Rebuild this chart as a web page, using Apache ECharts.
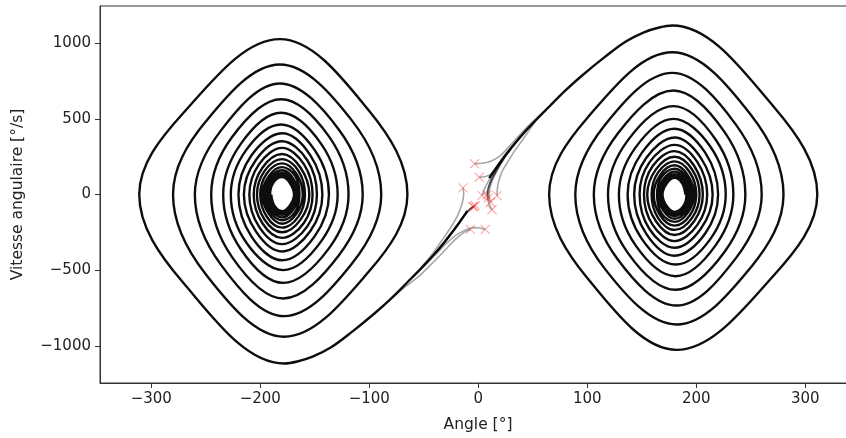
<!DOCTYPE html>
<html>
<head>
<meta charset="utf-8">
<script src="https://cdn.jsdelivr.net/npm/echarts@6/dist/echarts.min.js"></script>
<style>
html, body { margin: 0; background: #fff; }
#chart { width: 846px; height: 438px; }
</style>
</head>
<body>
<div id="chart"></div>
<script>
// ticks
var xTicks = [-300, -200, -100, 0, 100, 200, 300];
var yTicks = [-1000, -500, 0, 500, 1000];

// right-hand spiral (around +180°), clockwise
var rightSpiral = [
    [10, 108], [20, 212], [30, 305], [40, 392], [50, 470], [65, 580], [80, 688], [95, 785],
    [115, 903], [135, 1010], [152, 1072], [166, 1104], [178, 1117],
    [271, 580], [311, 0], [271, -535], [182, -1027],
    [100, -552], [65, 0], [100, 506], [178, 940],
    [250, 527], [280, 0], [250, -482], [182, -859],
    [116, -490], [89, 0], [116, 458], [178, 804],
    [236, 465], [260, 0], [236, -424], [182, -734],
    [128, -430], [106, 0], [128, 403], [179, 687],
    [226, 412], [245, 0], [226, -378], [181, -630],
    [137, -384], [119, 0], [137, 356], [179, 584],
    [218, 360], [234, 0], [218, -333], [181, -540],
    [144, -333], [129, 0], [144, 308], [179, 500],
    [213, 316], [227, 0], [213, -293], [181, -463],
    [150, -293], [137, 0], [150, 275], [180, 435],
    [208, 278], [220, 0], [208, -259], [180, -405],
    [154, -259], [143, 0], [154, 241], [180, 377],
    [204, 244], [215, 0], [204, -228], [180, -352],
    [157, -228], [148, 0], [157, 212], [180, 328],
    [201, 214], [210, 0], [201, -201], [180, -308],
    [160, -201], [152, 0], [160, 188], [180, 287],
    [198, 190], [206, 0], [198, -177], [180, -268],
    [163, -177], [155, 0], [163, 166], [180, 250],
    [196, 167], [203, 0], [196, -156], [180, -234],
    [165, -156], [159, 0], [165, 146], [180, 219],
    [194, 147], [200, 0], [194, -139], [180, -206],
    [167, -139], [161, 0], [167, 130], [180, 193],
    [192, 130], [198, 0], [192, -123], [180, -181],
    [168, -123], [164, 0], [168, 115], [180, 170],
    [191, 115], [196, 0], [191, -108], [180, -160],
    [170, -108], [165, 0], [170, 102], [180, 151],
    [190, 102], [194, 0], [190, -96], [180, -142],
    [171, -96], [167, 0], [171, 90], [180, 134],
    [189, 90], [192, 0], [189, -86], [180, -127],
    [172, -86], [168, 0], [172, 82], [180, 121],
    [188, 82], [191, 0], [188, -78], [180, -115],
    [173, -78], [169, 0], [173, 74], [180, 110],
    [187, 74], [190, 0]
];
// the left spiral is the point mirror of the right one
var leftSpiral = rightSpiral.map(function (p) { return [-p[0], -p[1]]; });

// starts near the top (red crosses) and how each one leaves the origin
var toRight1 = [[-3.4, 203], [4, 207], [12, 222], [20, 255], [28, 315], [36, 378], [44, 440], [54, 510], [66, 590]];
var toRight2 = [[0.9, 114], [7, 119], [14, 150], [22, 240], [30, 312], [40, 398], [52, 484]];
var toRight3 = [[3.4, -7], [5, 25], [8, 70], [13, 132], [20, 212]];
var toRight4 = [[8, -2], [9, 40], [12, 95], [17, 165], [24, 245], [32, 322]];
var toRight5 = [[17.2, -7], [17.5, 40], [19, 95], [22, 155], [27, 215], [34, 295], [42, 375], [52, 480]];
var toRight6 = [[11, -51], [9.9, -25], [9.8, 5], [10.8, 45], [13, 95], [17, 155], [23, 228], [31, 313]];
var toRight7 = [[12.6, -101], [10, -65], [8.6, -25], [8.5, 10], [9.5, 50], [12, 100], [16, 155], [22, 225], [30, 305]];
var toRight8 = [[9, -24], [8.5, 5], [9.5, 45], [12, 92], [17, 160], [24, 245]];
var toLeft1 = [[-14, 44], [-13.4, 10], [-13.8, -25], [-15.5, -75], [-19, -140], [-25, -215], [-33, -300], [-42, -392], [-52, -480]];
var toLeft2 = [[-4.9, -79], [-9, -105], [-15, -160], [-22, -230], [-30, -308], [-40, -392]];
var toLeft3 = [[-2.8, -73], [-7, -92], [-13, -140], [-20, -212], [-28, -290], [-38, -378]];
var toLeft4 = [[-7.3, -231], [-13, -250], [-20, -290], [-27, -340], [-35, -402], [-45, -475], [-56, -550], [-68, -615], [-80, -688]];
var toLeft5 = [[6.4, -231], [2, -221], [-3, -219], [-8, -225], [-14, -242], [-21, -272], [-29, -322], [-38, -388], [-48, -460], [-60, -545]];
var toLeft6 = [[-4, -82], [-8, -102], [-14, -152], [-21, -222], [-29, -300], [-39, -385]];

var approaches = [toRight1, toRight2, toRight3, toRight4, toRight5, toRight6, toRight7, toRight8,
                  toLeft1, toLeft2, toLeft3, toLeft4, toLeft5, toLeft6];

function fmt(v) {
    return v < 0 ? '\u2212' + (-v) : String(v);
}

var chart = echarts.init(document.getElementById('chart'));

var series = [];
approaches.forEach(function (d) {
    series.push({
        type: 'line',
        data: d,
        smooth: 0.3,
        symbol: 'none',
        lineStyle: { color: '#000', width: 1.6, opacity: 0.35 },
        z: 2
    });
});
[rightSpiral, leftSpiral].forEach(function (d) {
    series.push({
        type: 'line',
        data: d,
        smooth: 0.37,
        symbol: 'none',
        lineStyle: { color: '#000', width: 2.4, opacity: 0.95 },
        z: 3
    });
});
series.push({
    type: 'scatter',
    data: approaches.map(function (d) { return d[0]; }),
    symbol: 'path://M0,0L10,10M10,0L0,10',
    symbolSize: 9,
    itemStyle: { color: 'rgba(0,0,0,0)', borderColor: 'rgba(255,0,0,0.4)', borderWidth: 1.2 },
    z: 5
});

var tickFont = { fontFamily: 'DejaVu Sans', fontSize: 15, color: '#222' };
var nameFont = { fontFamily: 'DejaVu Sans', fontSize: 15.5, color: '#222' };

var option = {
    animation: false,
    backgroundColor: '#fff',
    grid: {
        left: 100, top: 6, bottom: 55, right: -10,
        containLabel: false,
        outerBoundsMode: 'none',
        show: true,
        borderColor: '#333',
        borderWidth: 1
    },
    xAxis: {
        type: 'value',
        min: -347, max: 346.5,
        name: 'Angle [°]',
        nameLocation: 'middle',
        nameGap: 34,
        nameTextStyle: nameFont,
        axisLine: { show: true, onZero: false, lineStyle: { color: '#333', width: 1 } },
        axisTick: { show: true, length: 5, lineStyle: { color: '#333' }, customValues: xTicks },
        axisLabel: Object.assign({ margin: 9, customValues: xTicks, formatter: fmt }, tickFont),
        splitLine: { show: false }
    },
    yAxis: {
        type: 'value',
        min: -1246, max: 1246,
        name: 'Vitesse angulaire [°/s]',
        nameLocation: 'middle',
        nameGap: 74,
        nameTextStyle: nameFont,
        axisLine: { show: true, onZero: false, lineStyle: { color: '#333', width: 1 } },
        axisTick: { show: true, length: 5, lineStyle: { color: '#333' }, customValues: yTicks },
        axisLabel: Object.assign({ margin: 9, customValues: yTicks, formatter: fmt }, tickFont),
        splitLine: { show: false }
    },
    series: series
};

chart.setOption(option);
</script>
</body>
</html>
